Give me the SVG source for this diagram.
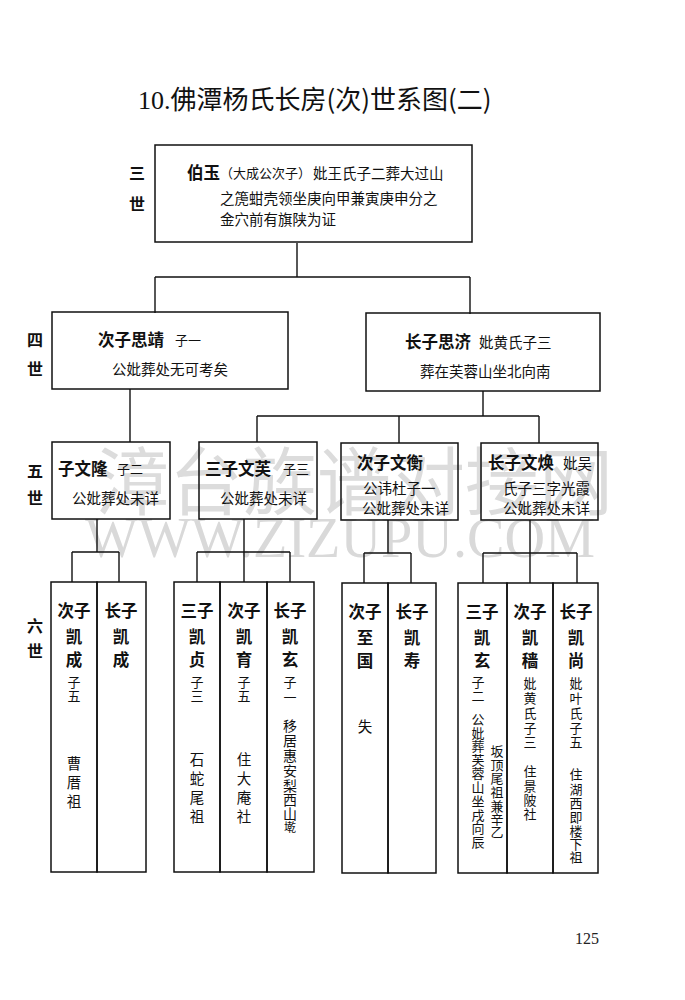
<svg xmlns="http://www.w3.org/2000/svg" width="685" height="1000" viewBox="0 0 685 1000">
<style>
.bg{fill:#ffffff}
.box{fill:none;stroke:#111;stroke-width:1.5}
.ln{fill:none;stroke:#111;stroke-width:1.4}
.t{font-family:"Noto Sans CJK SC","Noto Sans CJK TC",sans-serif;fill:#111;dominant-baseline:central}
.n{font-size:16.5px;font-weight:700}
.g{font-size:16px;font-weight:700;text-anchor:middle}
.s{font-size:14.5px}
.xs{font-size:13px}
.c{text-anchor:middle}
.wm{font-family:"Noto Sans CJK SC",sans-serif;fill:#dcdcdc;dominant-baseline:central}
.wm2{font-family:"Liberation Serif",serif;fill:#d9d9d9}
</style>
<rect class="bg" x="0" y="0" width="685" height="1000"/>

<g id="watermark">
<text class="wm" x="95" y="476" font-size="74">漳台族谱对接网</text>
<text class="wm2" x="85" y="557" font-size="56" textLength="510" lengthAdjust="spacingAndGlyphs">WWW.ZIZUPU.COM</text>
</g>

<g id="title">
<text x="138" y="109" font-size="26" fill="#111"><tspan font-family="Liberation Serif,serif">10.</tspan><tspan font-family="Noto Sans CJK SC,sans-serif">佛潭杨氏长房(次)世系图(二)</tspan></text>
</g>

<g id="generation-labels">
<text class="t g" x="137" y="172">三</text>
<text class="t g" x="137" y="203">世</text>
<text class="t g" x="35" y="339">四</text>
<text class="t g" x="35" y="368">世</text>
<text class="t g" x="35" y="470">五</text>
<text class="t g" x="35" y="497">世</text>
<text class="t g" x="35" y="625">六</text>
<text class="t g" x="35" y="650">世</text>
</g>

<g id="connectors">
<path class="ln" d="M297 243V277M155 277H470M155 277V313M470 277V314"/>
<path class="ln" d="M130 389V442"/>
<path class="ln" d="M483 391V416M257 416H539M257 416V442M399 416V443M539 416V443"/>
<path class="ln" d="M97 519V552M72 552H119M72 552V582M119 552V582"/>
<path class="ln" d="M244 519V552M197 552H290M197 552V582M244 552V582M290 552V582"/>
<path class="ln" d="M388 520V553M364 553H411M364 553V583M411 553V583"/>
<path class="ln" d="M530 520V553M483 553H577M483 553V583M530 553V583M577 553V583"/>
</g>

<g id="n-boyu">
<rect class="box" x="155" y="145" width="317" height="97"/>
<text class="t" x="187" y="172"><tspan class="n" font-size="15">伯玉</tspan><tspan class="xs">（大成公次子）</tspan><tspan class="s" x="313">妣王氏子二葬大过山</tspan></text>
<text class="t s" x="220" y="197">之箎蚶壳领坐庚向甲兼寅庚申分之</text>
<text class="t s" x="220" y="218">金穴前有旗陕为证</text>
</g>

<g id="n-sijing">
<rect class="box" x="52" y="312" width="236" height="77"/>
<text class="t n" x="98" y="339">次子思靖</text>
<text class="t xs" x="175" y="339">子一</text>
<text class="t s" x="112" y="368">公妣葬处无可考矣</text>
</g>

<g id="n-siji">
<rect class="box" x="366" y="313" width="234" height="78"/>
<text class="t n" x="405" y="341">长子思济</text>
<text class="t s" x="479" y="341">妣黄氏子三</text>
<text class="t s" x="420" y="370">葬在芙蓉山坐北向南</text>
</g>

<g id="n-wenlong">
<rect class="box" x="52" y="442" width="118" height="77"/>
<text class="t n" x="58" y="468">子文隆</text>
<text class="t xs" x="117" y="468">子二</text>
<text class="t s" x="72" y="497">公妣葬处未详</text>
</g>

<g id="n-wenfu">
<rect class="box" x="199" y="442" width="118" height="77"/>
<text class="t n" x="205" y="468">三子文芙</text>
<text class="t xs" x="283" y="468">子三</text>
<text class="t s" x="220" y="497">公妣葬处未详</text>
</g>

<g id="n-wenheng">
<rect class="box" x="341" y="443" width="117" height="77"/>
<text class="t n" x="357" y="462">次子文衡</text>
<text class="t s" x="363" y="487">公讳杜子一</text>
<text class="t s" x="362" y="507">公妣葬处未详</text>
</g>

<g id="n-wenhuan">
<rect class="box" x="481" y="443" width="117" height="77"/>
<text class="t n" x="488" y="462">长子文焕</text>
<text class="t s" x="563" y="462">妣吴</text>
<text class="t s" x="503" y="487">氏子三字光霞</text>
<text class="t s" x="503" y="507">公妣葬处未详</text>
</g>

<!-- Generation 6 -->
<g id="n-kaicheng2">
<rect class="box" x="51" y="582" width="46" height="290"/>
<text class="t n c" x="74" y="610">次子</text>
<text class="t n c"><tspan x="74" y="636">凯</tspan><tspan x="74" y="659">成</tspan></text>
<text class="t xs c"><tspan x="74" y="681">子</tspan><tspan x="74" y="695">五</tspan></text>
<text class="t s c"><tspan x="74" y="762">曹</tspan><tspan x="74" y="781">厝</tspan><tspan x="74" y="800">祖</tspan></text>
</g>

<g id="n-kaicheng1">
<rect class="box" x="97" y="582" width="49" height="290"/>
<text class="t n c" x="121" y="610">长子</text>
<text class="t n c"><tspan x="121" y="636">凯</tspan><tspan x="121" y="659">成</tspan></text>
</g>

<g id="n-kaizhen">
<rect class="box" x="174" y="582" width="46" height="290"/>
<text class="t n c" x="197" y="610">三子</text>
<text class="t n c"><tspan x="197" y="636">凯</tspan><tspan x="197" y="659">贞</tspan></text>
<text class="t xs c"><tspan x="197" y="681">子</tspan><tspan x="197" y="695">三</tspan></text>
<text class="t s c"><tspan x="197" y="758">石</tspan><tspan x="197" y="777">蛇</tspan><tspan x="197" y="796">尾</tspan><tspan x="197" y="815">祖</tspan></text>
</g>

<g id="n-kaiyu">
<rect class="box" x="220" y="582" width="47" height="290"/>
<text class="t n c" x="244" y="610">次子</text>
<text class="t n c"><tspan x="244" y="636">凯</tspan><tspan x="244" y="659">育</tspan></text>
<text class="t xs c"><tspan x="244" y="681">子</tspan><tspan x="244" y="695">五</tspan></text>
<text class="t s c"><tspan x="244" y="758">住</tspan><tspan x="244" y="777">大</tspan><tspan x="244" y="796">庵</tspan><tspan x="244" y="815">社</tspan></text>
</g>

<g id="n-kaixuan1">
<rect class="box" x="267" y="582" width="47" height="290"/>
<text class="t n c" x="290" y="610">长子</text>
<text class="t n c"><tspan x="290" y="636">凯</tspan><tspan x="290" y="659">玄</tspan></text>
<text class="t xs c"><tspan x="290" y="681">子</tspan><tspan x="290" y="696">一</tspan></text>
<text class="t c" font-size="14"><tspan x="290" y="725">移</tspan><tspan x="290" y="740">居</tspan><tspan x="290" y="755">惠</tspan><tspan x="290" y="770">安</tspan><tspan x="290" y="785">梨</tspan><tspan x="290" y="799">西</tspan><tspan x="290" y="813">山</tspan><tspan x="290" y="826" font-size="12">墘</tspan></text>
</g>

<g id="n-zhiguo">
<rect class="box" x="342" y="583" width="46" height="290"/>
<text class="t n c" x="365" y="611">次子</text>
<text class="t n c"><tspan x="365" y="637">至</tspan><tspan x="365" y="660">国</tspan></text>
<text class="t s c" x="365" y="725">失</text>
</g>

<g id="n-kaishou">
<rect class="box" x="388" y="583" width="48" height="290"/>
<text class="t n c" x="412" y="611">长子</text>
<text class="t n c"><tspan x="412" y="637">凯</tspan><tspan x="412" y="660">寿</tspan></text>
</g>

<g id="n-kaixuan3">
<rect class="box" x="458" y="583" width="49" height="290"/>
<text class="t n c" x="482" y="611">三子</text>
<text class="t n c"><tspan x="482" y="637">凯</tspan><tspan x="482" y="660">玄</tspan></text>
<text class="t xs c"><tspan x="478" y="681">子</tspan><tspan x="478" y="695">二</tspan><tspan x="478" y="718">公</tspan><tspan x="478" y="731.5">妣</tspan><tspan x="478" y="745">葬</tspan><tspan x="478" y="758.5">芙</tspan><tspan x="478" y="772">蓉</tspan><tspan x="478" y="786">山</tspan><tspan x="478" y="800">坐</tspan><tspan x="478" y="813.5">戌</tspan><tspan x="478" y="827">向</tspan><tspan x="478" y="841">辰</tspan></text>
<text class="t xs c"><tspan x="497" y="750">坂</tspan><tspan x="497" y="763.5">顶</tspan><tspan x="497" y="777">尾</tspan><tspan x="497" y="791">祖</tspan><tspan x="497" y="804.5">兼</tspan><tspan x="497" y="818">辛</tspan><tspan x="497" y="831">乙</tspan></text>
</g>

<g id="n-kaise">
<rect class="box" x="507" y="583" width="46" height="290"/>
<text class="t n c" x="530" y="611">次子</text>
<text class="t n c"><tspan x="530" y="637">凯</tspan><tspan x="530" y="660">穑</tspan></text>
<text class="t xs c"><tspan x="530" y="682">妣</tspan><tspan x="530" y="697">黄</tspan><tspan x="530" y="712">氏</tspan><tspan x="530" y="727">子</tspan><tspan x="530" y="741">三</tspan></text>
<text class="t xs c"><tspan x="530" y="770">住</tspan><tspan x="530" y="784.5">景</tspan><tspan x="530" y="799">陂</tspan><tspan x="530" y="813">社</tspan></text>
</g>

<g id="n-kaishang">
<rect class="box" x="553" y="583" width="45" height="290"/>
<text class="t n c" x="576" y="611">长子</text>
<text class="t n c"><tspan x="576" y="637">凯</tspan><tspan x="576" y="660">尚</tspan></text>
<text class="t xs c"><tspan x="576" y="682">妣</tspan><tspan x="576" y="697">叶</tspan><tspan x="576" y="712">氏</tspan><tspan x="576" y="727">子</tspan><tspan x="576" y="741">五</tspan></text>
<text class="t xs c"><tspan x="576" y="773">住</tspan><tspan x="576" y="787.5">湖</tspan><tspan x="576" y="802">西</tspan><tspan x="576" y="816">即</tspan><tspan x="576" y="829.5">楼</tspan><tspan x="576" y="842.5">下</tspan><tspan x="576" y="856">祖</tspan></text>
</g>

<g id="page-number">
<text x="575" y="944" font-family="Liberation Serif,serif" font-size="16" fill="#222">125</text>
</g>
</svg>
